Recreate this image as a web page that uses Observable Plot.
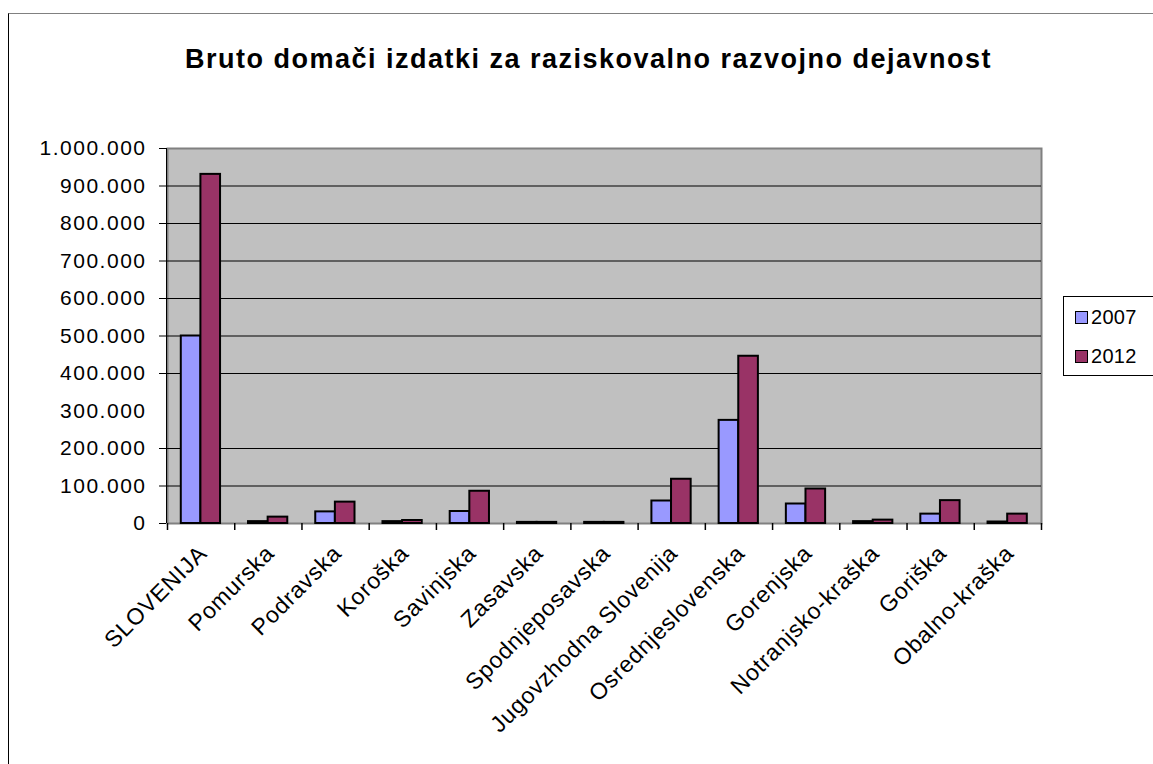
<!DOCTYPE html>
<html>
<head>
<meta charset="utf-8">
<script src="https://cdn.jsdelivr.net/npm/d3@7"></script>
<script src="https://cdn.jsdelivr.net/npm/@observablehq/plot@0.6"></script>
<style>
  html, body { margin: 0; padding: 0; background: #fff; }
  #wrap { position: relative; width: 1153px; height: 764px; overflow: hidden; font-family: "Liberation Sans", Arial, sans-serif; }
  #border { position: absolute; left: 8px; top: 13px; width: 2000px; height: 2000px; border-left: 1px solid #000; border-top: 1px solid #808080; box-sizing: border-box; }
  #title { position: absolute; left: 0; width: 1177px; top: 46px; text-align: center; font-size: 27px; line-height: 27px; font-weight: bold; color: #000; letter-spacing: 1.5px; }
  #chart { position: absolute; left: 0; top: 0; }
  #legend { position: absolute; left: 1063px; top: 296px; width: 120px; height: 80px; border: 1px solid #000; box-sizing: border-box; background: #fff; }
  .item { position: absolute; left: 11px; font-size: 20px; line-height: 20px; height: 20px; letter-spacing: 0.3px; }
  .sw { display: inline-block; width: 11px; height: 11px; border: 1px solid #000; margin-right: 3px; vertical-align: 0px; }
  #chart g[aria-label="y-axis tick label"] text { letter-spacing: 1.5px; }
  #chart g[aria-label="x-axis tick label"] text { letter-spacing: 0.8px; }
</style>
</head>
<body>
<div id="wrap">
  <div id="border"></div>
  <div id="chart"></div>
  <div id="title">Bruto domači izdatki za raziskovalno razvojno dejavnost</div>
  <div id="legend"></div>
</div>
<script>
const categories = ["SLOVENIJA","Pomurska","Podravska","Koroška","Savinjska","Zasavska","Spodnjeposavska","Jugovzhodna Slovenija","Osrednjeslovenska","Gorenjska","Notranjsko-kraška","Goriška","Obalno-kraška"];
const years = ["2007", "2012"];
const v2007 = [500000, 5000, 31000, 5000, 32000, 3000, 3000, 60000, 275000, 52000, 5000, 25000, 4000];
const v2012 = [931000, 17000, 57000, 8000, 86000, 3000, 3000, 118000, 446000, 92000, 9000, 61000, 25000];
const yTickLabels = [0, 100000, 200000, 300000, 400000, 500000, 600000, 700000, 800000, 900000, 1000000];
const yTickMarks = [0, 100000, 200000, 400000, 500000, 600000, 700000, 800000, 900000, 1000000];
const gridLines = [100000, 200000, 400000, 500000, 600000, 700000, 800000, 900000];
const colors = ["#9999ff", "#993366"];

const rows = [];
categories.forEach((c, i) => {
  rows.push({i, category: c, year: years[0], value: v2007[i], k: 0});
  rows.push({i, category: c, year: years[1], value: v2012[i], k: 1});
});

const outer = 0.205, barW = 0.292;
const fmt = d3.formatLocale({decimal: ",", thousands: ".", grouping: [3], currency: ["", ""]}).format(",");
const centers = categories.map((c, i) => i + 0.5);

const chart = Plot.plot({
  width: 1153,
  height: 764,
  marginLeft: 167,
  marginRight: 112,
  marginTop: 148,
  marginBottom: 241,
  x: {type: "linear", domain: [0, categories.length], axis: null, label: null},
  y: {domain: [0, 1000000], axis: null, label: null},
  color: {domain: years, range: colors},
  style: {fontFamily: "'Liberation Sans', Arial, sans-serif", background: "transparent", color: "#000", overflow: "visible"},
  marks: [
    Plot.frame({fill: "#c0c0c0", stroke: "#808080", strokeWidth: 2}),
    Plot.ruleY(gridLines, {stroke: "#000", strokeWidth: 1}),
    Plot.rectY(rows, {
      x1: d => d.i + outer + d.k * barW,
      x2: d => d.i + outer + (d.k + 1) * barW,
      y1: 0,
      y2: "value",
      fill: "year",
      stroke: "#000",
      strokeWidth: 2
    }),
    Plot.ruleX([0], {stroke: "#000", strokeWidth: 1, dx: -1}),
    Plot.axisY({ticks: yTickMarks, tickSize: 7, tickFormat: () => "", label: null, stroke: "#000", dx: -1}),
    Plot.axisY({ticks: yTickLabels, tickSize: 0, tickPadding: 21, tickFormat: fmt, label: null, fontSize: 21}),
    Plot.axisX({ticks: d3.range(categories.length + 1), tickSize: 7, tickFormat: () => "", label: null, stroke: "#000", strokeWidth: 1.5}),
    Plot.axisX({ticks: centers, tickFormat: v => categories[Math.floor(v)], label: null, tickSize: 0, tickPadding: 12, tickRotate: -45, fontSize: 23, dy: 14, dx: 2})
  ]
});
document.getElementById("chart").appendChild(chart);

const legend = document.getElementById("legend");
years.forEach((y, j) => {
  const it = document.createElement("div");
  it.className = "item";
  it.style.top = (10 + j * 39) + "px";
  it.innerHTML = `<span class="sw" style="background:${colors[j]}"></span>${y}`;
  legend.appendChild(it);
});
</script>
</body>
</html>
